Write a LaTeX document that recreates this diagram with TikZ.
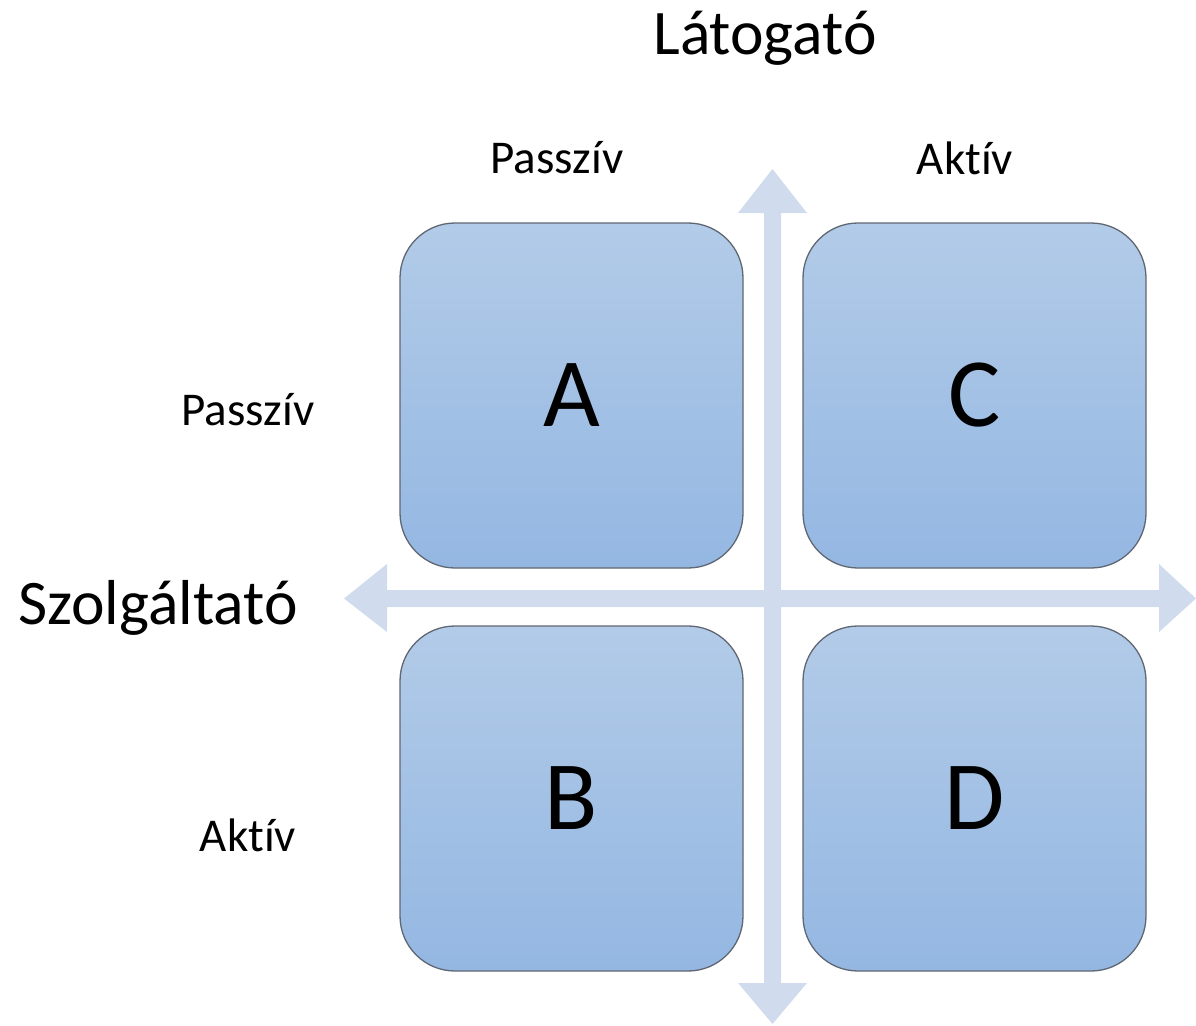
\documentclass[tikz,border=0pt]{standalone}
\usepackage{fontspec}
\setmainfont[Ligatures={NoCommon}]{Carlito}
\begin{document}
\begin{tikzpicture}[x=1pt,y=-1pt,
  quad/.style={draw=bordercol, line width=1.3pt, rounded corners=55pt,
    minimum width=343pt, minimum height=345pt, top color=boxtop, bottom color=boxbot,
    inner sep=0pt, font=\fontsize{98}{98}\selectfont},
  axis/.style={fill=axiscol, draw=none},
  big/.style={font=\fontsize{63.5}{63.5}\selectfont},
  small/.style={font=\fontsize{47}{47}\selectfont}]
\definecolor{boxtop}{HTML}{B2CBE8}
\definecolor{boxbot}{HTML}{94B7E2}
\definecolor{axiscol}{HTML}{D0DCEE}
\definecolor{bordercol}{HTML}{5F6773}
\useasboundingbox (0,0) rectangle (1196,1025);
% axes
\coordinate (vt) at (772.5,169);
\coordinate (vb) at (772.5,1024);
\coordinate (hl) at (344,598.5);
\coordinate (hr) at (1196,598.5);
\fill[axis] (vt) -- (807,213) -- (781,213) -- (781,983) -- (807,983) -- (vb)
  -- (738,983) -- (764,983) -- (764,213) -- (738,213) -- cycle;
\fill[axis] (hl) -- (387,564) -- (387,590) -- (1159,590) -- (1159,564) -- (hr)
  -- (1159,632) -- (1159,607) -- (387,607) -- (387,632) -- cycle;
% boxes
\node[quad] (A) at (571.5,395.5) {A};
\node[quad] (C) at (974.5,395.5) {C};
\node[quad] (B) at (571.5,798.5) {B};
\node[quad] (D) at (974.5,798.5) {D};
% labels
\node[big] (lat) at (765,38) {Látogató};
\node[big] (szo) at (158,608) {Szolgáltató};
\node[small] (tp) at (557,158) {Passzív};
\node[small] (ta) at (965,158) {Aktív};
\node[small] (lp) at (248,410) {Passzív};
\node[small] (la) at (248,835) {Aktív};
\end{tikzpicture}
\end{document}
